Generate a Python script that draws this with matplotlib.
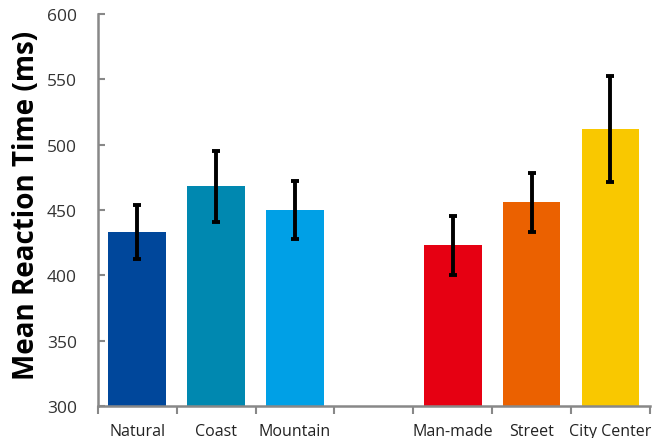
import matplotlib
matplotlib.use("Agg")
import matplotlib.pyplot as plt
import numpy as np

categories = ["Natural", "Coast", "Mountain", "Man-made", "Street", "City Center"]
positions = [0, 1, 2, 4, 5, 6]
means = [433, 468, 450, 423, 456, 512]
errors = [20.5, 27, 22, 22.5, 22.5, 40.5]
colors = ["#00479B", "#0088B0", "#00A0E6", "#E60012", "#EB6100", "#F9C800"]
yticks = [300, 350, 400, 450, 500, 550, 600]

plt.rcParams['font.family'] = ['Open Sans', 'DejaVu Sans']

fig = plt.figure(figsize=(6.7, 4.39), dpi=100)
ax = fig.add_axes([0.146, 0.073, 0.824, 0.893])

ax.bar(positions, [m - 300 for m in means], bottom=300, width=0.73, color=colors,
       edgecolor='none', zorder=2)
ax.errorbar(positions, means, yerr=errors, fmt='none', ecolor='black',
            elinewidth=2.8, capsize=3, capthick=2.8, zorder=3)

ax.set_xlim(-0.5, 6.5)
ax.set_ylim(300, 600)
ax.set_yticks(yticks)
ax.set_yticklabels([str(t) for t in yticks], fontsize=12.5, color='#333333')

ax.set_xticks(np.arange(-0.5, 7.0, 1.0))
ax.set_xticklabels([])
ax.set_xticks(positions, minor=True)
ax.set_xticklabels(categories, minor=True, fontsize=11.5, color='#222222')
ax.tick_params(axis='x', which='major', direction='out', length=6, width=1.5, color='#888888')
ax.tick_params(axis='x', which='minor', length=0, pad=12)
ax.tick_params(axis='y', direction='in', length=5, width=1.5, color='#888888', pad=15)

for s in ['top', 'right']:
    ax.spines[s].set_visible(False)
for s in ['left', 'bottom']:
    ax.spines[s].set_color('#888888')
    ax.spines[s].set_linewidth(1.8)

ax.set_ylabel("Mean Reaction Time (ms)", fontsize=20, fontweight='bold', color='black')
ax.yaxis.set_label_coords(-0.103, 0.515)

fig.savefig("out.png", dpi=100)
